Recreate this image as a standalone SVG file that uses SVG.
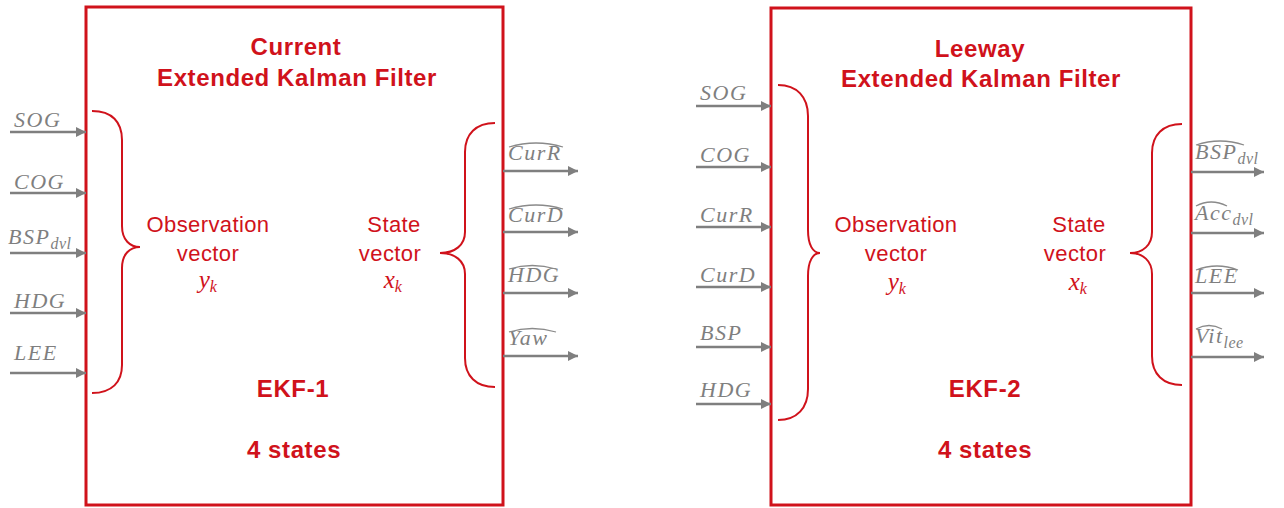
<svg xmlns="http://www.w3.org/2000/svg" width="1284" height="508" viewBox="0 0 1284 508">
<defs>
<marker id="ah" markerWidth="10" markerHeight="10" refX="10" refY="5" orient="auto" markerUnits="userSpaceOnUse">
<path d="M0,0 L10,5 L0,10 Z" fill="#7f7f7f"/>
</marker>
<style>
.box{fill:#fff;stroke:#d0121b;stroke-width:3}
.brace{fill:none;stroke:#d0121b;stroke-width:2}
.arr{stroke:#7f7f7f;stroke-width:2.5;fill:none;marker-end:url(#ah)}
.hat{stroke:#8a8a8a;stroke-width:1.3;fill:none}
.title{font-family:"Liberation Sans",Arial,sans-serif;font-weight:bold;font-size:24px;letter-spacing:0.6px;fill:#d0121b;text-anchor:middle}
.lab{font-family:"Liberation Sans",Arial,sans-serif;font-size:22px;letter-spacing:0.4px;fill:#d0121b;text-anchor:middle}
.mr{font-family:"Liberation Serif","Times New Roman",serif;font-style:italic;font-size:25px;fill:#d0121b;text-anchor:middle}
.m{font-family:"Liberation Serif","Times New Roman",serif;font-style:italic;font-size:22px;fill:#7f7f7f;letter-spacing:1.5px}
.sub{font-size:16px;letter-spacing:0.5px}
</style>
</defs>

<g id="ekf1">
<rect class="box" x="86" y="7" width="417" height="498"/>
<text class="title" x="296" y="55">Current</text>
<text class="title" x="297" y="86">Extended Kalman Filter</text>
<text class="lab" x="208" y="232">Observation</text>
<text class="lab" x="208" y="261">vector</text>
<text class="mr" x="208" y="288">y<tspan class="sub" dy="4">k</tspan></text>
<text class="lab" x="394" y="232">State</text>
<text class="lab" x="390" y="261">vector</text>
<text class="mr" x="393" y="288">x<tspan class="sub" dy="4">k</tspan></text>
<text class="title" x="293" y="397">EKF-1</text>
<text class="title" x="294" y="458">4 states</text>
<path class="brace" d="M92,111 C112,111 122,122 122,140 L122,226 C122,240 130,247 140,247 C130,247 122,254 122,268 L122,365 C122,382 112,393 92,393"/>
<path class="brace" d="M495,123 C476,123 465,134 465,152 L465,232 C465,245 455,253 440,253 C455,253 465,261 465,274 L465,358 C465,376 476,387 495,387"/>
<text class="m" x="14" y="127">SOG</text>
<text class="m" x="14" y="189">COG</text>
<text class="m" x="8" y="244">BSP<tspan class="sub" dy="5">dvl</tspan></text>
<text class="m" x="14" y="308">HDG</text>
<text class="m" x="14" y="360">LEE</text>
<text class="m" x="508" y="160">CurR</text>
<path class="hat" d="M509,147 Q536,139 563,147"/>
<text class="m" x="508" y="222">CurD</text>
<path class="hat" d="M509,209 Q536,201 563,209"/>
<text class="m" x="508" y="282">HDG</text>
<path class="hat" d="M509,269 Q532,262 556,269"/>
<text class="m" x="508" y="345">Yaw</text>
<path class="hat" d="M509,332 Q532,325 556,332"/>
</g>

<g id="ekf2">
<rect class="box" x="771" y="8" width="420" height="497"/>
<text class="title" x="980" y="57">Leeway</text>
<text class="title" x="981" y="87">Extended Kalman Filter</text>
<text class="lab" x="896" y="232">Observation</text>
<text class="lab" x="896" y="261">vector</text>
<text class="mr" x="897" y="290">y<tspan class="sub" dy="4">k</tspan></text>
<text class="lab" x="1079" y="232">State</text>
<text class="lab" x="1075" y="261">vector</text>
<text class="mr" x="1078" y="290">x<tspan class="sub" dy="4">k</tspan></text>
<text class="title" x="985" y="397">EKF-2</text>
<text class="title" x="985" y="458">4 states</text>
<path class="brace" d="M778,85 C797,85 808,97 808,116 L808,230 C808,245 813,253 820,253 C813,253 808,261 808,276 L808,389 C808,408 797,420 778,420"/>
<path class="brace" d="M1182,124 C1163,124 1152,135 1152,153 L1152,232 C1152,245 1143,253 1130,253 C1143,253 1152,261 1152,274 L1152,356 C1152,374 1163,385 1182,385"/>
<text class="m" x="700" y="100">SOG</text>
<text class="m" x="700" y="162">COG</text>
<text class="m" x="700" y="222">CurR</text>
<text class="m" x="700" y="282">CurD</text>
<text class="m" x="700" y="340">BSP</text>
<text class="m" x="700" y="397">HDG</text>
<text class="m" x="1195" y="159">BSP<tspan class="sub" dy="5">dvl</tspan></text>
<path class="hat" d="M1196,145 Q1220,137 1244,145"/>
<text class="m" x="1195" y="220">Acc<tspan class="sub" dy="5">dvl</tspan></text>
<path class="hat" d="M1196,206 Q1211,198 1227,206"/>
<text class="m" x="1195" y="283">LEE</text>
<path class="hat" d="M1196,270 Q1217,262 1238,270"/>
<text class="m" x="1195" y="343">Vit<tspan class="sub" dy="5">lee</tspan></text>
<path class="hat" d="M1196,329 Q1209,322 1222,329"/>
</g>

<g id="connectors">
<line class="arr" x1="10" y1="132" x2="86" y2="132"/>
<line class="arr" x1="10" y1="193" x2="86" y2="193"/>
<line class="arr" x1="10" y1="253" x2="86" y2="253"/>
<line class="arr" x1="10" y1="313" x2="86" y2="313"/>
<line class="arr" x1="10" y1="373" x2="86" y2="373"/>
<line class="arr" x1="503" y1="171" x2="578" y2="171"/>
<line class="arr" x1="503" y1="232" x2="578" y2="232"/>
<line class="arr" x1="503" y1="293" x2="578" y2="293"/>
<line class="arr" x1="503" y1="356" x2="578" y2="356"/>
<line class="arr" x1="696" y1="106" x2="771" y2="106"/>
<line class="arr" x1="696" y1="167" x2="771" y2="167"/>
<line class="arr" x1="696" y1="227" x2="771" y2="227"/>
<line class="arr" x1="696" y1="287" x2="771" y2="287"/>
<line class="arr" x1="696" y1="347" x2="771" y2="347"/>
<line class="arr" x1="696" y1="404" x2="771" y2="404"/>
<line class="arr" x1="1191" y1="172" x2="1264" y2="172"/>
<line class="arr" x1="1191" y1="233" x2="1264" y2="233"/>
<line class="arr" x1="1191" y1="293" x2="1264" y2="293"/>
<line class="arr" x1="1191" y1="357" x2="1264" y2="357"/>
</g>
</svg>
